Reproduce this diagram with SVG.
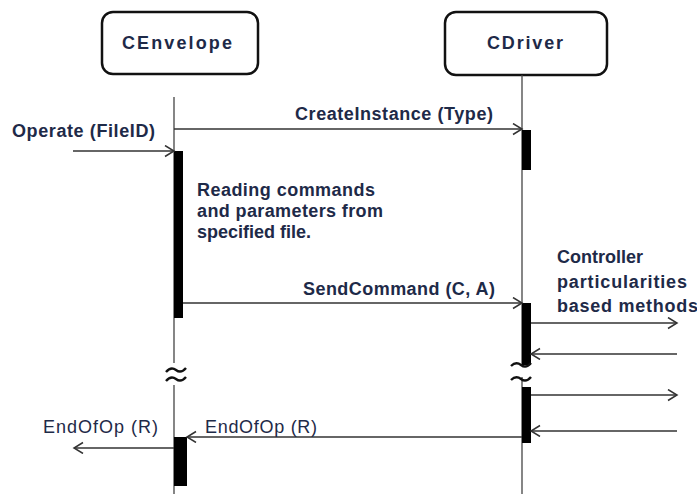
<svg xmlns="http://www.w3.org/2000/svg" width="697" height="494" viewBox="0 0 697 494">
<style>
.box{fill:#fff;stroke:#111;stroke-width:2.5}
.life{stroke:#444;stroke-width:1.3;fill:none}
.act{fill:#000}
.msg{stroke:#333;stroke-width:1.4;fill:none;marker-end:url(#ah)}
.t{font-family:"Liberation Sans",Arial,sans-serif;font-weight:bold;font-size:18px;fill:#1e2a48}
.n{font-family:"Liberation Sans",Arial,sans-serif;font-weight:bold;font-size:18px;fill:#1e2a48}
.e{font-family:"Liberation Sans",Arial,sans-serif;font-size:18px;fill:#1e2a48}
.brk{stroke:#111;stroke-width:2.4;fill:none}
</style>
<defs>
<marker id="ah" markerUnits="userSpaceOnUse" markerWidth="12" markerHeight="14" refX="10" refY="6" orient="auto">
<path d="M1,0.5 L10,6 L1,11.5" fill="none" stroke="#333" stroke-width="1.5"/>
</marker>
</defs>
<rect width="697" height="494" fill="#fff"/>

<g id="CEnvelope">
<rect class="box" x="102" y="12" width="156" height="62" rx="11"/>
<text class="n" x="177" y="49" text-anchor="middle" textLength="110" lengthAdjust="spacing">CEnvelope</text>
<line class="life" x1="174" y1="97" x2="174" y2="494"/>
<rect class="act" x="174" y="151" width="9" height="167"/>
<rect class="act" x="174" y="437" width="13" height="49"/>
<rect x="164" y="363" width="24" height="22" fill="#fff"/>
<path class="brk" d="M166,372 q5,-6 10,-2 t10,-2"/>
<path class="brk" d="M166,381 q5,-6 10,-2 t10,-2"/>
</g>

<g id="CDriver">
<rect class="box" x="445" y="12" width="162" height="63" rx="11"/>
<text class="n" x="525" y="49" text-anchor="middle" textLength="76" lengthAdjust="spacing">CDriver</text>
<line class="life" x1="522" y1="75" x2="522" y2="494"/>
<rect class="act" x="522" y="130" width="9" height="40"/>
<rect class="act" x="522" y="303" width="9" height="62"/>
<rect class="act" x="522" y="387" width="9" height="56"/>
<rect x="512" y="366" width="20" height="11" fill="#fff"/>
<path class="brk" d="M511,366 q5,-5 10,-1 t10,-2"/>
<path class="brk" d="M511,380 q5,-5 10,-1 t10,-2"/>
</g>

<g id="connectors">
<line class="msg" x1="73" y1="151" x2="174" y2="151"/>
<line class="msg" x1="174" y1="129" x2="522" y2="129"/>
<line class="msg" x1="183" y1="303" x2="522" y2="303"/>
<line class="msg" x1="531" y1="323" x2="677" y2="323"/>
<line class="msg" x1="677" y1="354" x2="531" y2="354"/>
<line class="msg" x1="531" y1="395" x2="677" y2="395"/>
<line class="msg" x1="677" y1="431" x2="531" y2="431"/>
<line class="msg" x1="522" y1="437" x2="187" y2="437"/>
<line class="msg" x1="174" y1="448" x2="74" y2="448"/>
</g>

<g id="labels">
<text class="t" x="12" y="137" textLength="143" lengthAdjust="spacing">Operate (FileID)</text>
<text class="t" x="295" y="120" textLength="198" lengthAdjust="spacing">CreateInstance (Type)</text>
<text class="t" x="197" y="196" textLength="178" lengthAdjust="spacing">Reading commands</text>
<text class="t" x="197" y="217" textLength="186" lengthAdjust="spacing">and parameters from</text>
<text class="t" x="197" y="238">specified file.</text>
<text class="t" x="303" y="295" textLength="192" lengthAdjust="spacing">SendCommand (C, A)</text>
<text class="t" x="557" y="263">Controller</text>
<text class="t" x="557" y="288" textLength="130" lengthAdjust="spacing">particularities</text>
<text class="t" x="557" y="312" textLength="141" lengthAdjust="spacing">based methods</text>
<text class="e" x="43" y="433" textLength="115" lengthAdjust="spacing">EndOfOp (R)</text>
<text class="e" x="205" y="433" textLength="112" lengthAdjust="spacing">EndOfOp (R)</text>
</g>
</svg>
